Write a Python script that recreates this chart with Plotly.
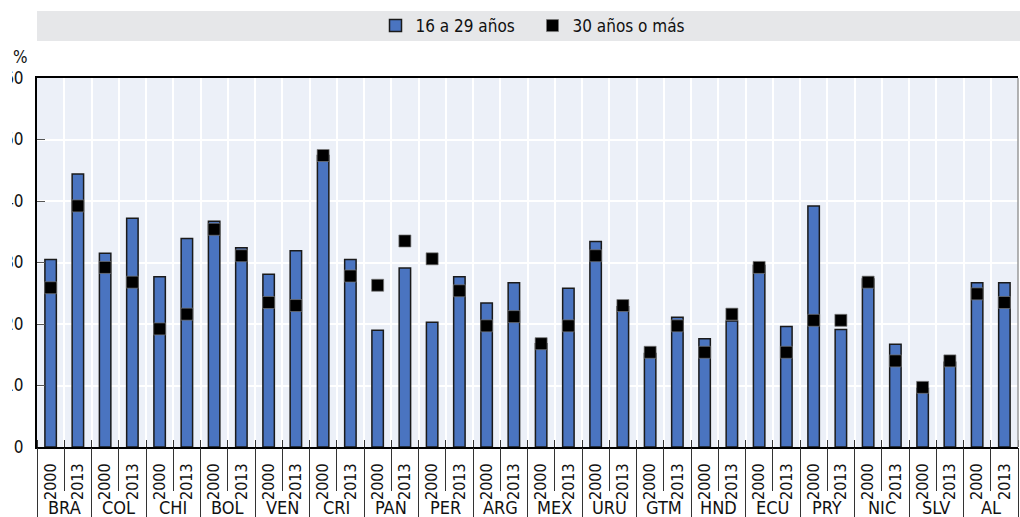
import plotly.graph_objects as go

# Countries and survey years
countries = ["BRA", "COL", "CHI", "BOL", "VEN", "CRI", "PAN", "PER", "ARG",
             "MEX", "URU", "GTM", "HND", "ECU", "PRY", "NIC", "SLV", "AL"]
years = ["2000", "2013"]

# Share (%) by age group, ordered country by country: 2000 then 2013
age_16_29 = [30.5, 44.4, 31.5, 37.2, 27.7, 33.9, 36.7, 32.4, 28.1, 31.9,
             47.4, 30.5, 19.0, 29.1, 20.3, 27.7, 23.4, 26.7, 16.8, 25.8,
             33.4, 22.8, 15.2, 21.1, 17.6, 20.5, 29.5, 19.6, 39.2, 19.1,
             27.3, 16.7, 9.5, 13.8, 26.7, 26.7]
age_30_plus = [25.9, 39.2, 29.2, 26.8, 19.2, 21.6, 35.4, 31.1, 23.5, 23.0,
               47.4, 27.8, 26.3, 33.5, 30.6, 25.4, 19.7, 21.2, 16.8, 19.7,
               31.1, 23.0, 15.4, 19.7, 15.4, 21.6, 29.2, 15.4, 20.6, 20.6,
               26.8, 14.0, 9.7, 14.0, 24.9, 23.5]

y_ticks = [0, 10, 20, 30, 40, 50, 60]

n_years = len(years)
n_slots = len(countries) * n_years
slot_pos = list(range(n_slots))                       # one slot per country-year
slot_year = [yr for _ in countries for yr in years]
x_range = [-0.5, n_slots - 0.5]
slot_edges = [i - 0.5 for i in range(n_slots + 1)]
group_edges = [e for k, e in enumerate(slot_edges) if k % n_years == 0]
inner_edges = [e for k, e in enumerate(slot_edges) if k % n_years != 0]
group_centers = [i * n_years + (n_years - 1) / 2 for i in range(len(countries))]

FONT = "DejaVu Sans Condensed"
W, H = 1020, 517
L, R, T, B = 37, 2, 78, 70
plot_w = W - L - R
plot_h = H - T - B

fig = go.Figure()
fig.add_trace(go.Bar(
    x=slot_pos, y=age_16_29, name="16 a 29 años",
    width=0.42,
    marker=dict(color="#4A74C0", line=dict(color="#1A1A1A", width=1.5)),
))
fig.add_trace(go.Scatter(
    x=slot_pos, y=age_30_plus, name="30 años o más", mode="markers",
    marker=dict(symbol="square", size=12, color="black",
                line=dict(color="rgba(120,120,120,0.7)", width=1)),
))
# invisible companion trace for the overlay axis that carries the separators
fig.add_trace(go.Scatter(
    x=slot_pos, y=age_30_plus, xaxis="x2", mode="markers",
    marker=dict(opacity=0), showlegend=False, hoverinfo="skip",
))

# country names centred under each pair of years
country_labels = [
    dict(text=c, xref="x", yref="paper", x=xc, y=-(508 - (H - B)) / plot_h,
         xanchor="center", yanchor="middle", showarrow=False,
         font=dict(size=18, color="#111"))
    for c, xc in zip(countries, group_centers)
]

fig.update_layout(
    width=W, height=H,
    margin=dict(l=L, r=R, t=T, b=B, pad=0),
    paper_bgcolor="white",
    plot_bgcolor="#ECF0F8",
    font=dict(family=FONT, size=17, color="#111"),
    showlegend=True,
    legend=dict(orientation="h", x=0.5 + 5 / plot_w, xanchor="center",
                y=(H - B - 26) / plot_h, yanchor="middle",
                bgcolor="rgba(0,0,0,0)", font=dict(size=17),
                entrywidth=112, traceorder="normal"),
    xaxis=dict(
        range=x_range, autorange=False, automargin=False,
        tickmode="array", tickvals=slot_pos, ticktext=slot_year,
        tickangle=-90, ticks="", ticklabelstandoff=8,
        tickfont=dict(size=16, color="#111"),
        showgrid=False, zeroline=False,
        minor=dict(tickmode="array", tickvals=slot_edges,
                   showgrid=True, gridcolor="white", gridwidth=1.5,
                   ticks="inside", ticklen=7, tickcolor="#333", tickwidth=1),
        showline=True, linecolor="black", linewidth=2, mirror=True,
    ),
    xaxis2=dict(
        overlaying="x", anchor="y", side="bottom",
        range=x_range, autorange=False, automargin=False,
        tickmode="array", tickvals=group_edges,
        ticks="outside", ticklen=72, tickcolor="#333", tickwidth=1,
        minor=dict(tickmode="array", tickvals=inner_edges,
                   ticks="outside", ticklen=43, tickcolor="#333", tickwidth=1,
                   showgrid=False),
        showticklabels=False, showgrid=False, showline=False, zeroline=False,
    ),
    yaxis=dict(
        range=[0, 60], tickvals=y_ticks, automargin=False,
        showgrid=True, gridcolor="white", gridwidth=1.5,
        zeroline=False,
        ticks="inside", ticklen=8, tickcolor="#555", tickwidth=1,
        ticklabelstandoff=8,
        tickfont=dict(size=17, color="#111"),
        showline=True, linecolor="black", linewidth=2,
    ),
    shapes=[
        # grey legend band across the top
        dict(type="rect", xref="paper", yref="paper", layer="below",
             x0=0, x1=(W - L) / plot_w,
             y0=(H - B - 41) / plot_h, y1=(H - B - 11) / plot_h,
             fillcolor="#E6E7E9", line=dict(width=0)),
        # light right border of the plotting area
        dict(type="line", xref="paper", yref="paper", layer="above",
             x0=1, x1=1, y0=0, y1=1,
             line=dict(color="#9A9A9A", width=1.5)),
        # white strip at the far left edge of the canvas
        dict(type="rect", xref="paper", yref="paper", layer="above",
             x0=-L / plot_w, x1=-(L - 12) / plot_w, y0=-0.05, y1=1.05,
             fillcolor="white", line=dict(width=0)),
    ],
    annotations=[
        dict(text="%", xref="paper", yref="paper",
             x=-(L - 20) / plot_w, y=(H - B - 57) / plot_h,
             xanchor="center", yanchor="middle", showarrow=False,
             font=dict(size=17, color="#111")),
    ] + country_labels,
)

fig.write_html("out.html")
